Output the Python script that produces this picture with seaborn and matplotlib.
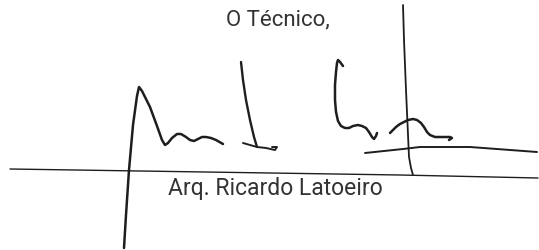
import matplotlib
matplotlib.use("Agg")
import matplotlib.pyplot as plt
import seaborn as sns
import pandas as pd

# ---- data (pixel coordinates, y downwards) ----
title_text = "O Técnico,"
name_text = "Arq. Ricardo Latoeiro"

baseline_x = [10, 140, 270, 400, 538]
baseline_y = [169, 171, 173, 175, 178]

stroke1_x = [124, 126, 129, 133, 137, 139, 142, 150, 157, 162, 165, 168, 172, 177, 181,
             186, 190, 194, 198, 202, 206, 211, 216, 223]
stroke1_y = [248, 215, 170, 125, 96, 87, 91, 107, 126, 140, 145, 143, 138, 134, 134,
             137, 140, 141, 139, 137, 137, 138, 140, 144]

stroke2_x = [241, 243, 246, 250, 254, 257]
stroke2_y = [62, 80, 100, 120, 137, 147]

scrib_x = [243, 250, 257, 266, 275, 277, 272]
scrib_y = [143, 145, 147, 148, 150, 147, 147]

stroke3_x = [343, 340, 338, 337, 336, 335, 335, 336, 338, 341, 345, 349, 353, 358, 362, 366,
             369, 372, 374, 376, 377]
stroke3_y = [66, 62, 60, 63, 72, 85, 100, 112, 121, 126, 128, 128, 126, 125, 126, 128,
             132, 137, 139, 136, 133]

stroke4_x = [390, 392, 396, 400, 404, 408, 413, 417, 421, 424, 427, 430, 435, 440, 445, 450,
             452, 449]
stroke4_y = [133, 131, 127, 124, 122, 120, 119, 120, 123, 127, 132, 135, 137, 137, 137, 137,
             138, 140]

vert_x = [403, 404, 406, 409, 411, 413]
vert_y = [5, 40, 90, 157, 168, 175]

short_x = [365, 403, 420, 470, 537]
short_y = [153, 149, 147, 147, 152]

ink = "#1e1e1e"

fig = plt.figure(figsize=(5.39, 2.5), dpi=100)
ax = fig.add_axes([0, 0, 1, 1])

def stroke(xs, ys, lw):
    df = pd.DataFrame({"x": xs, "y": ys})
    sns.lineplot(data=df, x="x", y="y", sort=False, estimator=None,
                 color=ink, linewidth=lw, ax=ax,
                 solid_capstyle="round", solid_joinstyle="round")

stroke(baseline_x, baseline_y, 1.0)
stroke(stroke1_x, stroke1_y, 1.8)
stroke(stroke2_x, stroke2_y, 1.7)
stroke(scrib_x, scrib_y, 1.4)
stroke(stroke3_x, stroke3_y, 1.8)
stroke(stroke4_x, stroke4_y, 1.8)
stroke(vert_x, vert_y, 1.3)
stroke(short_x, short_y, 1.4)

ax.text(278, 20, title_text, ha="center", va="center", fontsize=16,
        family="Roboto", color="#333333")
ax.text(275, 188, name_text, ha="center", va="center", fontsize=16.5,
        family="Roboto", color="#333333")

ax.set_xlim(0, 539)
ax.set_ylim(250, 0)
ax.set_axis_off()
fig.savefig("out.png", dpi=100, facecolor="white")
